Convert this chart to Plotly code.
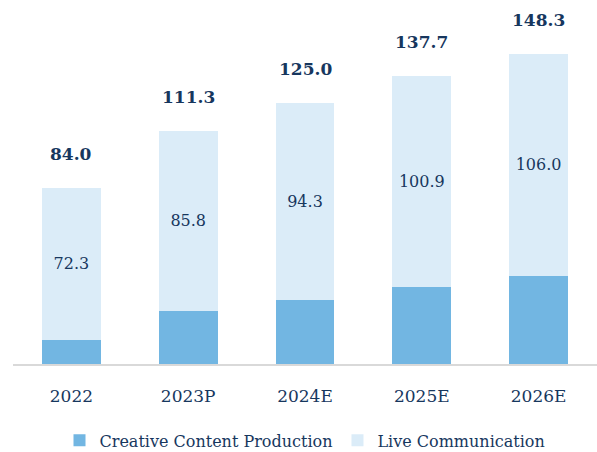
import plotly.graph_objects as go

categories = ["2022", "2023P", "2024E", "2025E", "2026E"]
creative = [11.7, 25.5, 30.7, 36.8, 42.3]
live = [72.3, 85.8, 94.3, 100.9, 106.0]
totals = [84.0, 111.3, 125.0, 137.7, 148.3]

NAVY = "#17375e"
FONT = "DejaVu Serif"

fig = go.Figure()
fig.add_trace(go.Bar(
    x=categories, y=creative, name="Creative Content Production",
    marker=dict(color="#72b6e2", line=dict(width=0)),
    hoverinfo="skip",
))
fig.add_trace(go.Bar(
    x=categories, y=live, name="Live Communication",
    marker=dict(color="#dbecf8", line=dict(width=0)),
    text=[f"{v:.1f}" for v in live], textposition="inside",
    insidetextanchor="middle", textangle=0,
    textfont=dict(family=FONT, size=16, color=NAVY),
    hoverinfo="skip",
))
for i, t in enumerate(totals):
    fig.add_annotation(x=i, y=t, text=f"<b>{t:.1f}</b>", showarrow=False,
                       yshift=34, font=dict(family=FONT, size=17, color=NAVY))

fig.update_layout(
    barmode="stack", bargap=0.495,
    width=597, height=452,
    margin=dict(l=13, r=0, t=0, b=88, autoexpand=False),
    paper_bgcolor="white", plot_bgcolor="white",
    font=dict(family=FONT, size=16, color=NAVY),
    showlegend=True,
    legend=dict(orientation="h", x=0.5, xanchor="center", y=-0.21, yanchor="middle",
                font=dict(family=FONT, size=16, color=NAVY), traceorder="normal",
                itemwidth=30),
    xaxis=dict(type="category", showgrid=False, ticks="", showline=True,
               linecolor="#d9d9d9", linewidth=2, range=[-0.5, 4.5],
               tickfont=dict(family=FONT, size=17, color=NAVY), ticklabelstandoff=16),
    yaxis=dict(visible=False, range=[0, 174], showgrid=False, zeroline=False),
    uniformtext=dict(mode="show", minsize=10),
)

fig.write_html("out.html")
